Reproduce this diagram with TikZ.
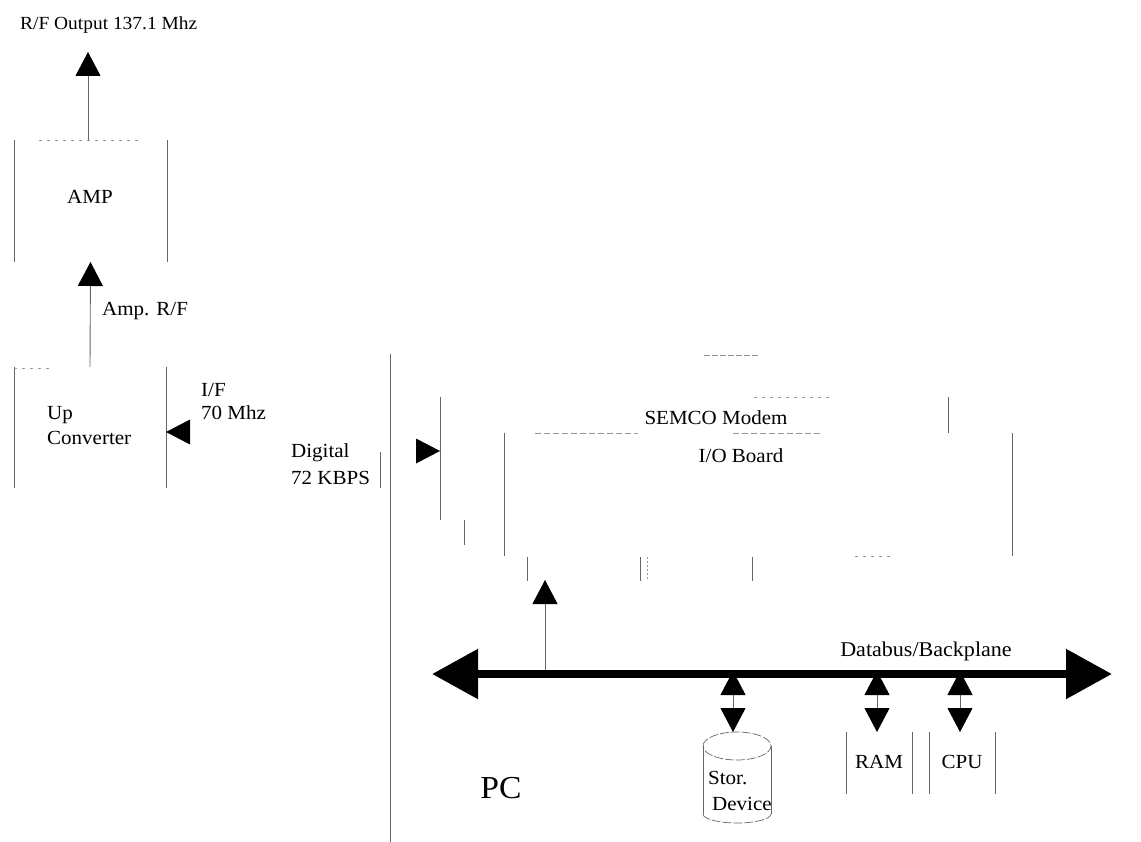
\documentclass[tikz,border=0pt]{standalone}
\usepackage{fontspec}
\setmainfont[FakeStretch=1.05]{Liberation Serif}
\usetikzlibrary{arrows.meta}
\definecolor{scanline}{gray}{0.4}
\definecolor{fadeline}{gray}{0.6}
\tikzset{
  blockframe/.style={rectangle,inner sep=0pt,outer sep=0pt,minimum width=#1},
  side/.style={draw=scanline,line width=0.9pt},
  faded/.style={draw=fadeline,line width=0.7pt,dash pattern=on 3pt off 5pt},
  curved/.style={draw=scanline,line width=0.7pt,dash pattern=on 9pt off 2pt},
  conn/.style={draw=scanline,line width=0.9pt},
  arrowup/.style={conn,-{Triangle[length=24pt,width=25pt,black]}},
  twoway/.style={conn,{Triangle[length=24pt,width=25pt,black]}-{Triangle[length=24pt,width=25pt,black]}},
  busline/.style={draw=black,line width=8.5pt,{Triangle[length=46pt,width=48pt,black]}-{Triangle[length=46pt,width=48pt,black]}},
  lbl/.style={font=\fontsize{20}{24}\selectfont,inner sep=0pt,align=left},
  every node/.append style={text=black}
}
\begin{document}
\begin{tikzpicture}[x=1pt,y=-1pt]
\useasboundingbox (0,0) rectangle (1141,842);

% invisible frames give the blocks their anchors
\node[blockframe=153pt,minimum height=122pt] (amp) at (90.5,201) {};
\node[blockframe=152pt,minimum height=121pt] (up) at (90,427.5) {};
\node[blockframe=508pt,minimum height=123pt] (modem) at (694,458.5) {};
\node[blockframe=508pt,minimum height=123pt] (io) at (758,494.5) {};
\node[blockframe=66pt,minimum height=62pt] (ram) at (879,763) {};
\node[blockframe=66pt,minimum height=62pt] (cpu) at (962,763) {};

% visible parts of the blocks
\draw[side] (amp.north west) -- (amp.south west);
\draw[side] (amp.north east) -- (amp.south east);
\draw[faded] ([xshift=25pt]amp.north west) -- ([xshift=-25pt]amp.north east);
\draw[side] (up.north west) -- (up.south west);
\draw[side] (up.north east) -- (up.south east);
\draw[faded] ([yshift=-1pt]up.north west) -- ([xshift=40pt,yshift=-1pt]up.north west);
\draw[side] (modem.north west) -- (modem.south west);
\draw[side] (modem.north east) -- ([yshift=-36pt]modem.north east);
\draw[faded] ([xshift=314pt]modem.north west) -- ([xshift=392pt]modem.north west);
\draw[side] (io.north west) -- (io.south west);
\draw[side] (io.north east) -- (io.south east);
\draw[faded,dash pattern=on 6pt off 3pt] ([xshift=31pt]io.north west) -- ([xshift=134pt]io.north west);
\draw[faded,dash pattern=on 6pt off 3pt] ([xshift=229pt]io.north west) -- ([xshift=317pt]io.north west);
\draw[faded] ([xshift=351pt]io.south west) -- ([xshift=386pt]io.south west);
\draw[side] (ram.north west) -- (ram.south west);
\draw[side] (ram.north east) -- (ram.south east);
\draw[side] (cpu.north west) -- (cpu.south west);
\draw[side] (cpu.north east) -- (cpu.south east);

% fragments of the board edges and the PC enclosure
\coordinate (pcT) at (390,354);
\coordinate (pcB) at (390,842);
\draw[side] (pcT) -- (pcB);
\coordinate (pcTa) at (704,355);
\coordinate (pcTb) at (758,355);
\draw[faded,dash pattern=on 6pt off 2pt] (pcTa) -- (pcTb);
\coordinate (stubA) at (380,452);
\coordinate (stubB) at (380,488);
\draw[side] (stubA) -- (stubB);
\coordinate (stubC) at (464,520);
\coordinate (stubD) at (464,545);
\draw[side] (stubC) -- (stubD);
\coordinate (t1a) at (527,557);
\coordinate (t1b) at (527,581);
\draw[side] (t1a) -- (t1b);
\coordinate (t2a) at (640,557);
\coordinate (t2b) at (640,581);
\draw[side] (t2a) -- (t2b);
\coordinate (t3a) at (647,557);
\coordinate (t3b) at (647,581);
\draw[draw=fadeline,line width=0.8pt,dash pattern=on 2pt off 2pt] (t3a) -- (t3b);
\coordinate (t4a) at (752,557);
\coordinate (t4b) at (752,581);
\draw[side] (t4a) -- (t4b);

% cylinder
\node[blockframe=68pt,minimum height=91pt] (stor) at (737,777.5) {};
\draw[curved] ([yshift=-14pt]stor.north west) arc[start angle=180,end angle=-180,x radius=34pt,y radius=14pt];
\draw[side] ([yshift=-14pt]stor.north west) -- ([yshift=9pt]stor.south west);
\draw[side] ([yshift=-14pt]stor.north east) -- ([yshift=9pt]stor.south east);
\draw[curved] ([yshift=9pt]stor.south west) arc[start angle=180,end angle=360,x radius=34pt,y radius=9pt];

% labels
\node[lbl,anchor=west,font=\fontsize{18.5}{22}\selectfont] (title) at (20,25) {R/F Output 137.1 Mhz};
\node[lbl] (ampt) at (90,197) {AMP};
\node[lbl,anchor=west] (ampr) at (102,311) {Amp. R/F};
\node[lbl,anchor=west] (upt) at (47,415) {Up};
\node[lbl,anchor=west] (cvt) at (47,438) {Converter};
\node[lbl,anchor=west] (ift) at (201,390) {I/F};
\node[lbl,anchor=west] (mhz) at (201,413) {70 Mhz};
\node[lbl,anchor=west] (digi) at (291,453) {Digital};
\node[lbl,anchor=west] (kbps) at (291,478) {72 KBPS};
\node[lbl] (sem) at (716,418) {SEMCO Modem};
\node[lbl] (iot) at (741,456) {I/O Board};
\node[lbl,font=\fontsize{21}{25}\selectfont] (dbt) at (926,651) {Databus/Backplane};
\node[lbl,anchor=west] (st1) at (708,778) {Stor.};
\node[lbl,anchor=west] (st2) at (712,804) {Device};
\node[lbl] (ramt) at (879,762) {RAM};
\node[lbl] (cput) at (962,762) {CPU};
\node[font=\fontsize{32}{36}\selectfont,inner sep=0pt] (pc) at (501,788) {PC};

% connectors
\coordinate (rfout) at (88,52);
\draw[arrowup] (amp.north -| rfout) -- (rfout);
\draw[arrowup] (up.north) -- (amp.south);
\coordinate (ifin) at (190,432);
\coordinate (ifout) at (166,432);
\fill[black] (ifout) -- ([yshift=12.5pt]ifin) -- ([yshift=-12.5pt]ifin) -- cycle;
\coordinate (digin) at (416,451);
\coordinate (digout) at (440,451);
\fill[black] (digout) -- ([yshift=12.5pt]digin) -- ([yshift=-12.5pt]digin) -- cycle;

\coordinate (busL) at (432,674);
\coordinate (busR) at (1112,674);
\draw[busline] (busL) -- (busR);
\coordinate (tapIO) at (545,670);
\coordinate (ioIn) at (545,580);
\draw[arrowup] (tapIO) -- (ioIn);
\draw[twoway] (stor.north |- busL) ++(-4pt,3pt) coordinate (busS) -- (stor.north -| busS);
\draw[twoway] (ram.north |- busL) ++(-2pt,3pt) coordinate (busM) -- (ram.north -| busM);
\draw[twoway] (cpu.north |- busL) ++(-2pt,3pt) coordinate (busC) -- (cpu.north -| busC);
\end{tikzpicture}
\end{document}
